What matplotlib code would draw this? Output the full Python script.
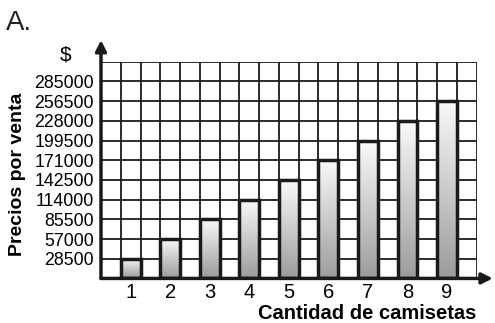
import matplotlib
matplotlib.use("Agg")
import matplotlib.pyplot as plt
import numpy as np

cantidades = [1, 2, 3, 4, 5, 6, 7, 8, 9]
precios = [28500, 57000, 85500, 114000, 142500, 171000, 199500, 228000, 256500]
y_ticks = [28500, 57000, 85500, 114000, 142500, 171000, 199500, 228000, 256500, 285000]

plt.rcParams['font.family'] = ['Liberation Sans', 'DejaVu Sans']

fig = plt.figure(figsize=(4.95, 3.23), dpi=100)
ax = fig.add_axes([0.204, 0.138, 0.759, 0.671])

step = 28500
ax.set_xlim(0.25, 9.75)
ax.set_ylim(0, 11 * step)

# grid made of black lines, half a unit wide on x, one step high on y
for gx in np.arange(0.25, 9.76, 0.5):
    ax.axvline(gx, color='#1a1a1a', lw=1.3, zorder=1)
for gy in np.arange(0, 11 * step + 1, step):
    ax.axhline(gy, color='#1a1a1a', lw=1.3, zorder=1)

grad = np.linspace(0, 1, 256).reshape(-1, 1)
bar_cmap = matplotlib.colors.LinearSegmentedColormap.from_list('g', ['#fafafa', '#9c9c9c'])
bars = ax.bar(cantidades, precios, width=0.5, facecolor='none',
              edgecolor='#1a1a1a', linewidth=2.5, zorder=4)
for b in bars:
    x0, y0 = b.get_x(), b.get_y()
    w, h = b.get_width(), b.get_height()
    im = ax.imshow(grad, cmap=bar_cmap, aspect='auto', origin='upper',
                   extent=[x0, x0 + w, y0, y0 + h], zorder=3)
    im.set_clip_path(b)
ax.set_xlim(0.25, 9.75)
ax.set_ylim(0, 11 * step)

for s in ax.spines.values():
    s.set_visible(False)

ax.set_yticks(y_ticks)
ax.set_yticklabels([str(v) for v in y_ticks], fontsize=12.8)
ax.set_xticks(cantidades)
ax.set_xticklabels([str(c) for c in cantidades], fontsize=14.5)
ax.tick_params(axis='both', length=0)
ax.tick_params(axis='y', pad=5)
ax.tick_params(axis='x', pad=3)

# axes with arrows
ax.annotate('', xy=(0, 1.10), xytext=(0, 0), xycoords='axes fraction',
            arrowprops=dict(arrowstyle='-|>', color='#1a1a1a', lw=2.5,
                            mutation_scale=16, shrinkA=0, shrinkB=0),
            annotation_clip=False)
ax.annotate('', xy=(1.043, 0), xytext=(0, 0), xycoords='axes fraction',
            arrowprops=dict(arrowstyle='-|>', color='#1a1a1a', lw=2.5,
                            mutation_scale=16, shrinkA=0, shrinkB=0),
            annotation_clip=False)

fig.text(0.133, 0.83, '$', fontsize=15, ha='center', va='center')
fig.text(0.012, 0.93, 'A.', fontsize=20, ha='left', va='center', color='#222222')
fig.text(0.962, 0.028, 'Cantidad de camisetas', fontsize=14.5, fontweight='bold',
         ha='right', va='center')
fig.text(0.035, 0.46, 'Precios por venta', fontsize=14, fontweight='bold',
         ha='center', va='center', rotation=90)

fig.savefig('out.png', dpi=100)
